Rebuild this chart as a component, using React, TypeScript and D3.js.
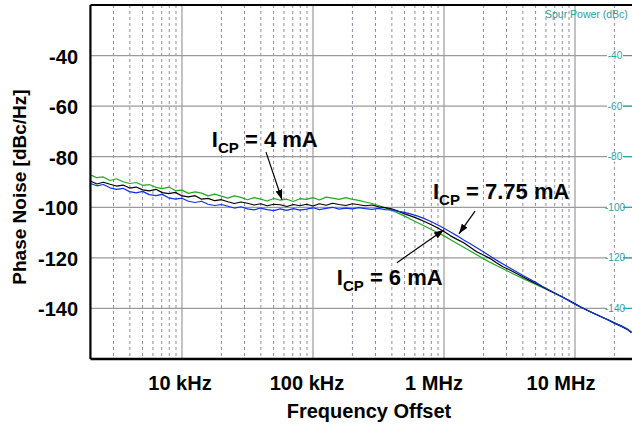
import React from 'react';
import * as d3 from 'd3';

// Frequency offsets (kHz)
const freqKHz = [2,2.24,2.51,2.82,3.16,3.55,3.98,4.47,5.01,5.62,6.31,7.08,7.94,8.91,
  10,11.2,12.6,14.1,15.8,17.8,20,22.4,25.1,28.2,31.6,35.5,39.8,44.7,50.1,56.2,63.1,70.8,79.4,89.1,
  100,112,126,141,158,178,200,224,251,282,316,355,398,447,501,562,631,708,794,891,
  1000,1122,1259,1413,1585,1778,1995,2239,2512,2818,3162,3548,3981,4467,5012,5623,6310,7079,7943,8913,
  10000,11220,12589,14125,15849,17783,19953,22387,25119,27000];

// I_CP = 4 mA (green)
const pn4mA = [-87.2,-88.3,-88.0,-89.4,-88.7,-89.9,-90.6,-90.2,-91.3,-91.0,-92.1,-92.6,-92.0,-93.4,
  -93.2,-94.5,-93.9,-94.4,-95.5,-94.8,-95.6,-96.4,-95.5,-96.1,-97.0,-96.2,-96.8,-97.5,-96.5,-97.2,-96.8,-97.7,-96.6,-96.9,
  -96.2,-97.1,-96.0,-96.4,-96.9,-96.2,-96.9,-97.3,-97.9,-98.5,-99.3,-100.2,-101.2,-102.3,-103.5,-104.8,-106.1,-107.4,-108.7,-110.0,
  -111.3,-112.8,-114.3,-115.8,-117.3,-118.8,-120.3,-121.7,-123.0,-124.3,-125.6,-126.9,-128.1,-129.3,-130.5,-131.7,-132.9,-134.2,-135.4,-136.8,
  -138.2,-139.6,-140.8,-142.1,-143.3,-144.4,-145.7,-146.8,-148.1,-149.3];

// I_CP = 6 mA (black)
const pn6mA = [-89.6,-90.8,-90.1,-90.9,-91.6,-91.2,-92.4,-92.0,-93.1,-93.5,-92.9,-94.2,-94.6,-94.1,
  -95.5,-95.9,-95.4,-96.8,-96.5,-97.4,-97.0,-97.8,-98.5,-97.9,-98.4,-99.1,-98.6,-99.4,-98.8,-99.0,-99.7,-98.9,-99.4,-98.8,
  -99.5,-98.6,-99.2,-98.4,-98.9,-99.3,-98.6,-99.0,-99.4,-99.1,-99.8,-100.1,-100.6,-101.5,-102.6,-103.5,-104.5,-105.6,-106.8,-108.1,
  -109.6,-111.3,-112.7,-114.0,-115.8,-117.6,-118.9,-120.2,-121.9,-123.5,-124.7,-126.1,-127.5,-128.8,-130.1,-131.4,-132.8,-134.1,-135.4,-136.8,
  -138.2,-139.6,-140.9,-142.1,-143.3,-144.5,-145.8,-147.0,-148.3,-149.5];

// I_CP = 7.75 mA (blue)
const pn775mA = [-90.6,-91.5,-91.0,-92.3,-92.9,-92.5,-93.8,-94.3,-93.7,-95.0,-95.4,-94.9,-96.3,-96.8,
  -96.4,-97.6,-98.1,-97.6,-98.8,-99.3,-98.9,-99.6,-100.3,-99.8,-100.6,-101.0,-100.3,-100.9,-101.3,-100.6,-101.2,-100.5,-101.1,-100.7,
  -100.2,-100.9,-100.4,-100.0,-100.7,-100.3,-100.6,-100.1,-100.5,-100.8,-100.4,-100.9,-101.0,-101.6,-102.0,-102.7,-103.5,-104.5,-105.6,-106.9,
  -108.3,-109.8,-111.3,-112.9,-114.4,-116.0,-117.6,-119.3,-120.9,-122.4,-123.9,-125.4,-126.9,-128.3,-129.7,-131.2,-132.6,-134.0,-135.4,-136.9,
  -138.3,-139.6,-140.9,-142.1,-143.3,-144.5,-145.7,-146.9,-148.2,-149.6];

const xTickValues = [10, 100, 1000, 10000];
const xTickLabels = ['10 kHz', '100 kHz', '1 MHz', '10 MHz'];
const yTickValues = [-40, -60, -80, -100, -120, -140];
const minorMultipliers = [2, 3, 4, 5, 6, 7, 8, 9];
const decadeStarts = [1, 10, 100, 1000, 10000];

const series = [
  { name: 'I_CP = 4 mA', values: pn4mA, color: '#1faa1f' },
  { name: 'I_CP = 6 mA', values: pn6mA, color: '#000000' },
  { name: 'I_CP = 7.75 mA', values: pn775mA, color: '#1030f0' },
];

const W = 632;
const H = 427;
const TEAL = '#1fa3a3';
const FONT = 'Arial, "Liberation Sans", Helvetica, sans-serif';

export default function App() {
  const x = d3.scaleLog().domain([10, 10000]).range([182, 575]);
  const y = d3.scaleLinear().domain([-160, -20]).range([359, 5]);
  const left = x(2);
  const right = W;
  const top = y(-20);
  const bottom = y(-160);

  const minors: number[] = [];
  decadeStarts.forEach((d) => minorMultipliers.forEach((m) => {
    const v = d * m;
    if (v > 2 && x(v) < right) minors.push(v);
  }));

  const line = d3.line<number>()
    .x((_, i) => x(freqKHz[i]))
    .y((v) => y(v));

  const annot = (main: string, sub: string, rest: string, fx: number, fy: number) => (
    <text x={x(fx)} y={y(fy)} fontFamily={FONT} fontWeight="bold" fontSize={22} fill="#000">
      {main}
      <tspan fontSize={15} dy={6}>{sub}</tspan>
      <tspan dy={-6} fontSize={22}>{rest}</tspan>
    </text>
  );

  const arrow = (f1: number, v1: number, f2: number, v2: number) => (
    <line x1={x(f1)} y1={y(v1)} x2={x(f2)} y2={y(v2)} stroke="#000" strokeWidth={1.2} markerEnd="url(#arrowhead)" />
  );

  return (
    <svg width={W} height={H} style={{ position: 'absolute', left: 0, top: 0, background: '#fff' }}>
      <defs>
        <marker id="arrowhead" viewBox="0 0 10 7" refX={10} refY={3.5} markerWidth={10} markerHeight={7}
          markerUnits="userSpaceOnUse" orient="auto">
          <path d="M0,0 L10,3.5 L0,7 z" fill="#000" />
        </marker>
        <clipPath id="plotclip">
          <rect x={left} y={top} width={right - left} height={bottom - top} />
        </clipPath>
      </defs>
      <rect x={0} y={0} width={W} height={H} fill="#fff" />

      {/* minor dashed verticals */}
      {minors.map((v) => (
        <line key={'m' + v} x1={x(v)} x2={x(v)} y1={top} y2={bottom} stroke="#8c8ca4" strokeWidth={1} strokeDasharray="3,3" />
      ))}
      {/* decade verticals */}
      {xTickValues.map((v) => (
        <line key={'d' + v} x1={x(v)} x2={x(v)} y1={top} y2={bottom} stroke="#9a9a9a" strokeWidth={1.2} />
      ))}
      {/* horizontal grid */}
      {yTickValues.map((v) => (
        <line key={'h' + v} x1={left} x2={right} y1={y(v)} y2={y(v)} stroke="#9a9a9a" strokeWidth={1.2} />
      ))}

      {/* right-side spur power axis */}
      {yTickValues.map((v) => (
        <g key={'r' + v}>
          <rect x={607} y={y(v) - 5} width={16} height={10} fill="#fff" />
          <line x1={623} x2={632} y1={y(v)} y2={y(v)} stroke={TEAL} strokeWidth={1} />
          <text x={615} y={y(v)} dy="0.35em" textAnchor="middle" fontFamily={FONT} fontSize={10} fill={TEAL}>{v}</text>
        </g>
      ))}
      <text x={545} y={18} fontFamily={FONT} fontSize={10.5} fill={TEAL}>Spur Power (dBc)</text>

      {/* curves */}
      <g clipPath="url(#plotclip)">
        {series.map((s) => (
          <path key={s.name} d={line(s.values) || ''} fill="none" stroke={s.color} strokeWidth={1.2} strokeLinejoin="round" />
        ))}
      </g>

      {/* frame */}
      <line x1={left} x2={right} y1={top} y2={top} stroke="#000" strokeWidth={2} />
      <line x1={left} x2={left} y1={top} y2={bottom} stroke="#000" strokeWidth={2.2} />
      <line x1={left} x2={right} y1={bottom} y2={bottom} stroke="#000" strokeWidth={2.5} />

      {/* y tick labels */}
      {yTickValues.map((v) => (
        <text key={'yl' + v} x={78} y={y(v) + 1} dy="0.35em" textAnchor="end" fontFamily={FONT} fontWeight="bold" fontSize={20} fill="#000">{v}</text>
      ))}
      {/* x tick labels (slightly left of their gridlines, as in the original) */}
      {xTickValues.map((v, i) => (
        <text key={'xl' + v} x={x(v) - 2 - 4 * (Math.log10(v) - 1)} y={390} textAnchor="middle" fontFamily={FONT} fontWeight="bold" fontSize={20} fill="#000">{xTickLabels[i]}</text>
      ))}

      {/* axis titles */}
      <text x={369} y={418} textAnchor="middle" fontFamily={FONT} fontWeight="bold" fontSize={20} fill="#000">Frequency Offset</text>
      <text transform="translate(26,187) rotate(-90)" textAnchor="middle" fontFamily={FONT} fontWeight="bold" fontSize={19} fill="#000">Phase Noise [dBc/Hz]</text>

      {/* annotations */}
      {annot('I', 'CP', ' = 4 mA', 16.9, -76.2)}
      {arrow(43.8, -78.2, 58, -97.0)}
      {annot('I', 'CP', ' = 7.75 mA', 824, -96.7)}
      {arrow(1726, -101.5, 1300, -110.5)}
      {annot('I', 'CP', ' = 6 mA', 152, -130.7)}
      {arrow(437, -121.9, 1000, -108.9)}
    </svg>
  );
}
